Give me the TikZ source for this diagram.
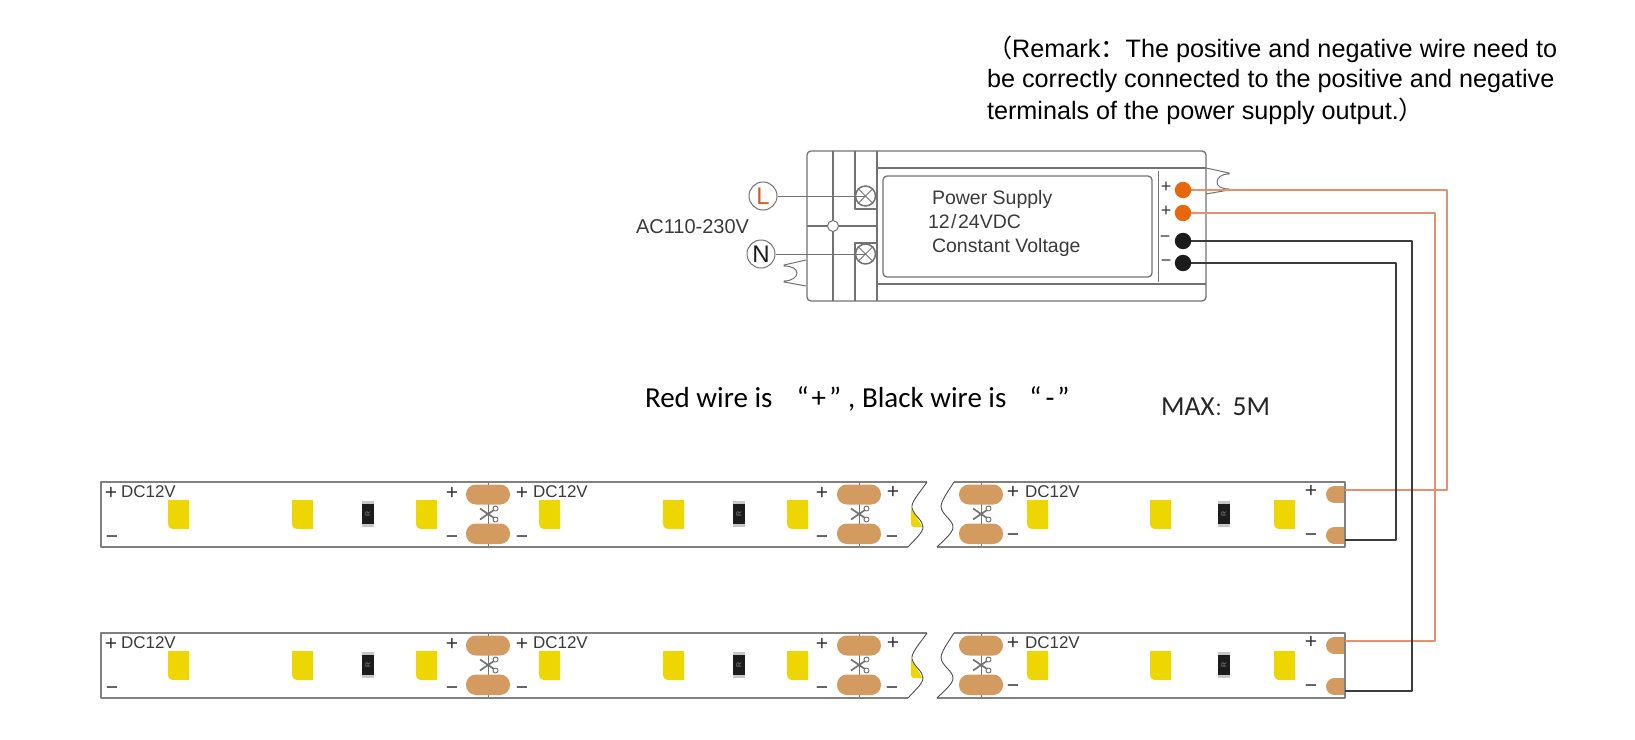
\documentclass[tikz,border=0pt]{standalone}
\usepackage{fontspec}
\setmainfont{Liberation Sans}
\newfontfamily\cjk{Noto Sans CJK SC}
\newfontfamily\calib{Carlito}
\definecolor{linegray}{HTML}{727272}
\definecolor{textdark}{HTML}{3A3A3A}
\definecolor{padtan}{HTML}{D49B60}
\definecolor{ledyellow}{HTML}{EED600}
\definecolor{wirered}{HTML}{EB8E70}
\definecolor{wireblack}{HTML}{3C3C3C}
\definecolor{termorange}{HTML}{E8660C}
\definecolor{termblack}{HTML}{1C1C1C}
\definecolor{lorange}{HTML}{DD5A1E}
\tikzset{
  outline/.style={draw=linegray,line width=1.3pt},
  stripline/.style={draw=black!50,line width=1.5pt},
  wavy/.style={draw=black!70,line width=.9pt},
  redwire/.style={draw=wirered,line width=1.3pt},
  blackwire/.style={draw=wireblack,line width=1.3pt},
  pad/.style={fill=padtan,rounded corners=9.8pt},
  padflat/.style={fill=padtan},
  led/.style={fill=ledyellow},
  lab/.style={anchor=base west,inner sep=0pt,outer sep=0pt},
  pm/.style={inner sep=0pt,outer sep=0pt,text=black!80,font=\fontsize{21}{21}\selectfont},
  pmsmall/.style={inner sep=0pt,outer sep=0pt,text=textdark,font=\fontsize{18}{18}\selectfont},
  dcv/.style={lab,text=textdark,font=\fontsize{17}{20}\selectfont},
  arialtext/.style={lab,text=textdark,font=\fontsize{19.5}{22}\selectfont},
  aclabelstyle/.style={lab,text=textdark,font=\fontsize{20}{22}\selectfont},
  remark/.style={lab,text=black,font=\fontsize{25.2}{28}\selectfont},
  mainnote/.style={lab,text=black,font=\calib\fontsize{29}{34}\selectfont},
  maxnote/.style={lab,text=black!85,font=\calib\fontsize{27.5}{34}\selectfont},
  acdot/.style={circle,draw=linegray,line width=1pt,fill=white,minimum size=28pt,inner sep=0pt,font=\fontsize{24}{24}\selectfont},
  screw/.style={circle,draw=linegray,line width=1.5pt,minimum size=20pt,inner sep=0pt},
  hub/.style={circle,draw=linegray,line width=1pt,fill=white,minimum size=11pt,inner sep=0pt},
  term/.style={circle,minimum size=16.5pt,inner sep=0pt}
}
\newcommand\ledchip[2]{%
  \fill[led] (#1,#2) -- (#1+21,#2) -- (#1+21,#2+29) -- (#1+6,#2+29)
    .. controls (#1+2,#2+29) and (#1,#2+27) .. (#1,#2+23) -- cycle;}
\newcommand\resist[3]{% x, y, name
  \fill[black!22] (#1,#2) rectangle (#1+12,#2+26);
  \fill[termblack] (#1,#2+3) rectangle (#1+12,#2+23);
  \node[rotate=90,inner sep=0pt,text=black!45,font=\fontsize{7}{7}\selectfont] (#3) at (#1+6,#2+13) {R};}
\newcommand\cutmark[1]{%
  \draw[linegray,line width=1pt] (#1,482) -- (#1,547);
  \fill[pad] (#1-22,484.5) rectangle (#1+22,504.5);
  \fill[pad] (#1-22,523.5) rectangle (#1+22,544);
  \draw[linegray,line width=1.7pt] (#1-8,508.5) -- (#1+6,518);
  \draw[linegray,line width=1.7pt] (#1-8,519.5) -- (#1+6,510);
  \draw[linegray,line width=1pt] (#1+7.5,508.5) circle (2.5);
  \draw[linegray,line width=1pt] (#1+7.5,519.5) circle (2.5);}
\newcommand\ledstrip[2]{% name, y offset
\begin{scope}[shift={(0,#2)}]
  \ledchip{168}{500}\ledchip{292}{500}\ledchip{416}{500}
  \resist{362}{501}{#1ra}
  \ledchip{539}{500}\ledchip{663}{500}\ledchip{787}{500}
  \resist{733}{501}{#1rb}
  \ledchip{1027}{500}\ledchip{1150}{500}\ledchip{1274}{500}
  \resist{1218}{501}{#1rc}
  \fill[led] (911,508) .. controls (914,515) and (920,521) .. (922,527) -- (914,527)
     .. controls (912,527) and (911,526) .. (911,524) -- cycle;
  \cutmark{488}\cutmark{859}\cutmark{981}
  \fill[padflat] (1334.5,494.5) circle (8.5);
  \fill[padflat] (1334.5,486) rectangle (1345,503);
  \fill[padflat] (1334.5,535.5) circle (8.5);
  \fill[padflat] (1334.5,527) rectangle (1345,544);
  \draw[stripline] (927,482) -- (101,482) -- (101,547) -- (908,547);
  \draw[stripline] (954,482) -- (1345,482) -- (1345,547) -- (937,547);
  \draw[wavy] (927,482) .. controls (918,495) and (911,502) .. (912,508)
     .. controls (914,516) and (923,520) .. (923,527)
     .. controls (923,533) and (914,540) .. (908,547);
  \draw[wavy] (954,482) .. controls (947,493) and (941,501) .. (941,507)
     .. controls (942,515) and (953,520) .. (953,527)
     .. controls (953,533) and (944,540) .. (937,547);
  \node[pm] (#1pa) at (111,493) {+};
  \node[dcv] (#1da) at (121,497) {DC12V};
  \node[pm] (#1ma) at (112,540) {−};
  \node[pm] (#1pb) at (452,493) {+};
  \node[pm] (#1mb) at (452,540) {−};
  \node[pm] (#1pc) at (522,493) {+};
  \node[dcv] (#1db) at (533,497) {DC12V};
  \node[pm] (#1mc) at (522,540) {−};
  \node[pm] (#1pd) at (822,493) {+};
  \node[pm] (#1md) at (822,540) {−};
  \node[pm] (#1pe) at (893,492) {+};
  \node[pm] (#1me) at (892,540) {−};
  \node[pm] (#1pf) at (1013,492) {+};
  \node[dcv] (#1dc) at (1025,497) {DC12V};
  \node[pm] (#1mf) at (1013,538) {−};
  \node[pm] (#1pg) at (1311,491) {+};
  \node[pm] (#1mg) at (1311,538) {−};
  \coordinate (#1plus) at (1345,490);
  \coordinate (#1minus) at (1345,540);
\end{scope}}
\begin{document}
\begin{tikzpicture}[x=1pt,y=-1pt,line join=round]
\useasboundingbox (0,0) rectangle (1635,739);
% remark
\node[remark] (rem1) at (987,57) {{\cjk （}Remark{\cjk ：}The positive and negative wire need to};
\node[remark] (rem2) at (987,87.5) {be correctly connected to the positive and negative};
\node[remark] (rem3) at (987,119) {terminals of the power supply output.{\cjk ）}};
% notes
\node[mainnote] (note) at (645,407) {Red wire is\kern24pt“\kern3pt+\kern3pt”\kern7pt, Black wire is\kern23pt“\kern4pt-\kern3pt”};
\node[maxnote] (maxlen) at (1161,415) {MAX{\cjk\fontsize{18}{18}\selectfont ：}5M};
% power supply body
\draw[outline,rounded corners=4pt] (807,151) rectangle (1206,301);
\draw[outline] (833,151) -- (833,301);
\draw[outline] (855,151) -- (855,209) -- (877,209);
\draw[outline] (855,301) -- (855,243) -- (877,243);
\draw[outline] (877,151) -- (877,301);
\draw[outline] (807,226) -- (877,226);
\draw[outline] (877,168) -- (1206,168);
\draw[outline] (877,284) -- (1206,284);
\draw[outline,rounded corners=4pt] (883,176) rectangle (1152,277);
\draw[outline,line width=1pt] (1158,171) -- (1158,282);
\node[hub] (hubc) at (833,226) {};
% mounting tabs
\draw[outline,line width=1pt] (806,260) -- (784,265) -- (784,266) .. controls (792,266) and (797,269) .. (797,273)
   .. controls (797,277) and (792,281) .. (784,281) -- (784,282) -- (806,286);
\draw[outline,line width=1pt] (1206,168) -- (1229,173) -- (1229,174) .. controls (1221,174) and (1217,178) .. (1217,182)
   .. controls (1217,186) and (1221,189) .. (1229,189) -- (1229,190) -- (1206,194);
% AC side
\node[acdot,text=lorange] (lnode) at (763,196) {L};
\node[acdot,text=termblack] (nnode) at (761,254) {N};
\node[screw] (tl) at (865.5,196) {};
\node[screw] (tn) at (865.5,254) {};
\draw[linegray,line width=1pt] (tl.north west) -- (tl.south east) (tl.north east) -- (tl.south west);
\draw[linegray,line width=1pt] (tn.north west) -- (tn.south east) (tn.north east) -- (tn.south west);
\draw[outline,line width=1pt] (lnode.east) -- (tl.center);
\draw[outline,line width=1pt] (nnode.east) -- (tn.center);
\node[aclabelstyle] (aclabel) at (636,233) {AC110-230V};
% power supply text
\node[arialtext] (pst1) at (932,204) {Power Supply};
\node[arialtext] (pst2) at (928,228) {12\kern1.5pt/\kern1.5pt24VDC};
\node[arialtext] (pst3) at (932,252) {Constant Voltage};
% strips
\ledstrip{sa}{0}
\ledstrip{sb}{151}
% terminals
\node[pmsmall] (plusa) at (1166,187) {+};
\node[pmsmall] (plusb) at (1166,211) {+};
\node[pmsmall] (minusa) at (1165,239) {−};
\node[pmsmall] (minusb) at (1166,263) {−};
\coordinate (busa) at (1447,0);
\coordinate (busb) at (1435,0);
\coordinate (busc) at (1412,0);
\coordinate (busd) at (1396,0);
\node[term] (ta) at (1183,190) {};
\node[term] (tb) at (1183,213) {};
\node[term] (tc) at (1183,241) {};
\node[term] (td) at (1183,263) {};
% wires
\draw[redwire] (ta.center) -- (ta.center -| busa) -- (busa |- saplus) -- (saplus);
\draw[redwire] (tb.center) -- (tb.center -| busb) -- (busb |- sbplus) -- (sbplus);
\draw[blackwire] (tc.center) -- (tc.center -| busc) -- (busc |- sbminus) -- (sbminus);
\draw[blackwire] (td.center) -- (td.center -| busd) -- (busd |- saminus) -- (saminus);
\fill[termorange] (ta) circle (8.2);
\fill[termorange] (tb) circle (8.2);
\fill[termblack] (tc) circle (8.2);
\fill[termblack] (td) circle (8.2);
\end{tikzpicture}
\end{document}
